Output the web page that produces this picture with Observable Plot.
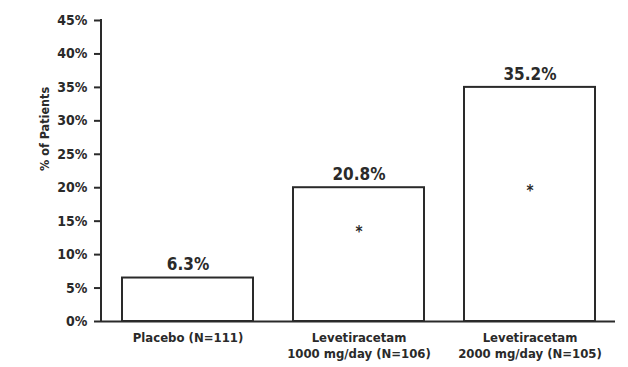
<!DOCTYPE html>
<html>
<head>
<meta charset="utf-8">
<script src="https://cdn.jsdelivr.net/npm/d3@7"></script>
<script src="https://cdn.jsdelivr.net/npm/@observablehq/plot@0.6"></script>
<style>
  html, body { margin: 0; padding: 0; background: #fff; }
  svg { display: block; }
</style>
</head>
<body>
<div id="chart"></div>
<script>
const categories = ["Placebo", "LEV1000", "LEV2000"];
const categoryLabels = ["Placebo (N=111)", "Levetiracetam\n1000 mg/day (N=106)", "Levetiracetam\n2000 mg/day (N=105)"];
const barHeights = [6.5, 20, 35];          // bar tops as drawn
const valueLabels = ["6.3%", "20.8%", "35.2%"];
const asteriskCats = ["LEV1000", "LEV2000"];
const asteriskY = [13.8, 20];
const yTicks = [0, 5, 10, 15, 20, 25, 30, 35, 40, 45];

const bars = categories.map((c, i) => ({cat: c, h: barHeights[i], label: valueLabels[i]}));
const stars = asteriskCats.map((c, i) => ({cat: c, y: asteriskY[i]}));
const labelOf = Object.fromEntries(categories.map((c, i) => [c, categoryLabels[i]]));

const ink = "#2a2a2a";
const font = "'Liberation Sans Narrow', 'Arial Narrow', 'DejaVu Sans Condensed', sans-serif";

// vertical y-axis line drawn at the frame's left edge
const yAxisLine = (index, scales, values, dims) => {
  const g = d3.create("svg:g");
  g.append("line")
    .attr("x1", dims.marginLeft).attr("x2", dims.marginLeft)
    .attr("y1", dims.marginTop - 1).attr("y2", dims.height - dims.marginBottom + 1)
    .attr("stroke", ink).attr("stroke-width", 2);
  return g.node();
};

const chart = Plot.plot({
  width: 628,
  height: 367,
  marginLeft: 101,
  marginRight: 13,
  marginTop: 20,
  marginBottom: 46,
  style: {fontFamily: font, color: ink, background: "#fff", fontWeight: "bold"},
  x: {domain: categories, paddingInner: 0.235, paddingOuter: 0.1175, label: null},
  y: {domain: [0, 45], label: null},
  marks: [
    Plot.barY(bars, {x: "cat", y: "h", fill: "white", stroke: ink, strokeWidth: 2}),
    Plot.ruleY([0], {stroke: ink, strokeWidth: 2}),
    yAxisLine,
    Plot.axisY({ticks: yTicks, tickFormat: d => d + "%", tickSize: 7, tickPadding: 7,
                fontSize: 14, stroke: ink, strokeWidth: 2, label: null}),
    Plot.axisX({tickSize: 0, tickPadding: 9, fontSize: 13, lineHeight: 1.25,
                tickFormat: d => labelOf[d], label: null}),
    Plot.text(bars, {x: "cat", y: "h", text: "label", dy: -13, fontSize: 17, fontWeight: "bold", fill: ink}),
    Plot.text(stars, {x: "cat", y: "y", text: () => "*", fontSize: 15, fontWeight: "bold", fill: ink, dy: 3}),
    Plot.text(["% of Patients"], {frameAnchor: "left", dx: -57, rotate: -90, fontSize: 12.5, fontWeight: "bold", fill: ink})
  ]
});
document.getElementById("chart").appendChild(chart);
</script>
</body>
</html>
